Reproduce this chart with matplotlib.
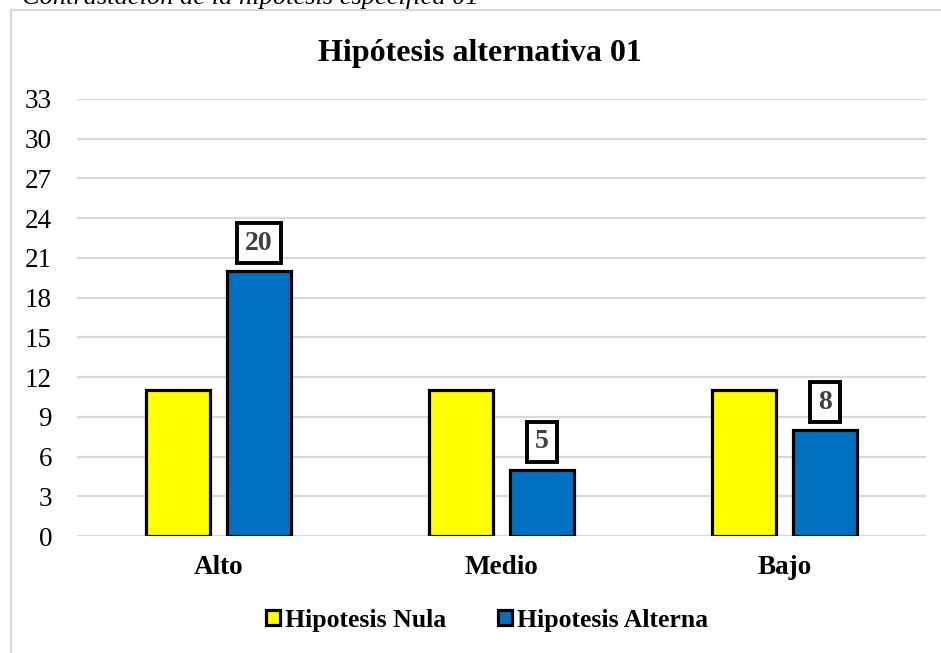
import matplotlib
matplotlib.use("Agg")
import matplotlib.pyplot as plt
import numpy as np

plt.rcParams['font.family'] = ['Liberation Serif', 'DejaVu Serif']

# datos del grafico
categorias = ["Alto", "Medio", "Bajo"]
hipotesis_nula = [11, 11, 11]
hipotesis_alterna = [20, 5, 8]
series_nombres = ["Hipotesis Nula", "Hipotesis Alterna"]
y_ticks = [0, 3, 6, 9, 12, 15, 18, 21, 24, 27, 30, 33]

fig = plt.figure(figsize=(9.41, 6.53), dpi=100)
ax = fig.add_axes([77/941, 1 - 536/653, (926 - 77)/941, (536 - 99)/653])

x = np.arange(len(categorias))
ancho = 0.226
desp = 0.143

b1 = ax.bar(x - desp, hipotesis_nula, ancho, color="#FFFF00", edgecolor="black",
            linewidth=2.3, label=series_nombres[0], zorder=3)
b2 = ax.bar(x + desp, hipotesis_alterna, ancho, color="#0070C0", edgecolor="black",
            linewidth=2.3, label=series_nombres[1], zorder=3)

# etiquetas de la serie alterna
for xi, v in zip(x + desp, hipotesis_alterna):
    ax.annotate(str(v), (xi, v), xytext=(0, 28), textcoords="offset pixels",
                ha="center", va="center", fontsize=20, fontweight="bold", color="#404040",
                bbox=dict(boxstyle="square,pad=0.28", fc="white", ec="black", lw=2.8), zorder=5)

ax.set_xlim(-0.5, 2.5)
ax.set_ylim(0, 33)
ax.set_yticks(y_ticks)
ax.set_yticklabels([str(t) for t in y_ticks], fontsize=19.5)
ax.set_xticks(x)
ax.set_xticklabels(categorias, fontsize=19.5, fontweight="bold")
ax.tick_params(axis="both", length=0)
ax.tick_params(axis="y", pad=18)
ax.tick_params(axis="x", pad=14)
ax.grid(axis="y", color="#d9d9d9", linewidth=1.6, zorder=0)
for s in ax.spines.values():
    s.set_visible(False)

fig.text(480/941, 1 - 53/653, "Hipótesis alternativa 01", ha="center", va="center",
         fontsize=23, fontweight="bold")

# leyenda
ley = fig.legend(handles=[b1, b2], loc="center", bbox_to_anchor=(487/941, 1 - 620/653),
                 ncol=2, frameon=False, prop={"size": 18.5, "weight": "bold"},
                 handlelength=0.55, handleheight=0.55, handletextpad=0.2, columnspacing=2.0)

# borde del grafico y titulo de figura cortado
fig.add_artist(plt.Line2D([11/941, 11/941], [0, 1 - 10/653], color="#d9d9d9", lw=1.6))
fig.add_artist(plt.Line2D([11/941, 1], [1 - 10/653, 1 - 10/653], color="#d9d9d9", lw=1.6))
fig.text(22/941, 1 - 4/653, "Contrastación de la hipótesis específica 01", ha="left",
         va="baseline", fontsize=19, fontstyle="italic")

fig.savefig("out.png", dpi=100)
